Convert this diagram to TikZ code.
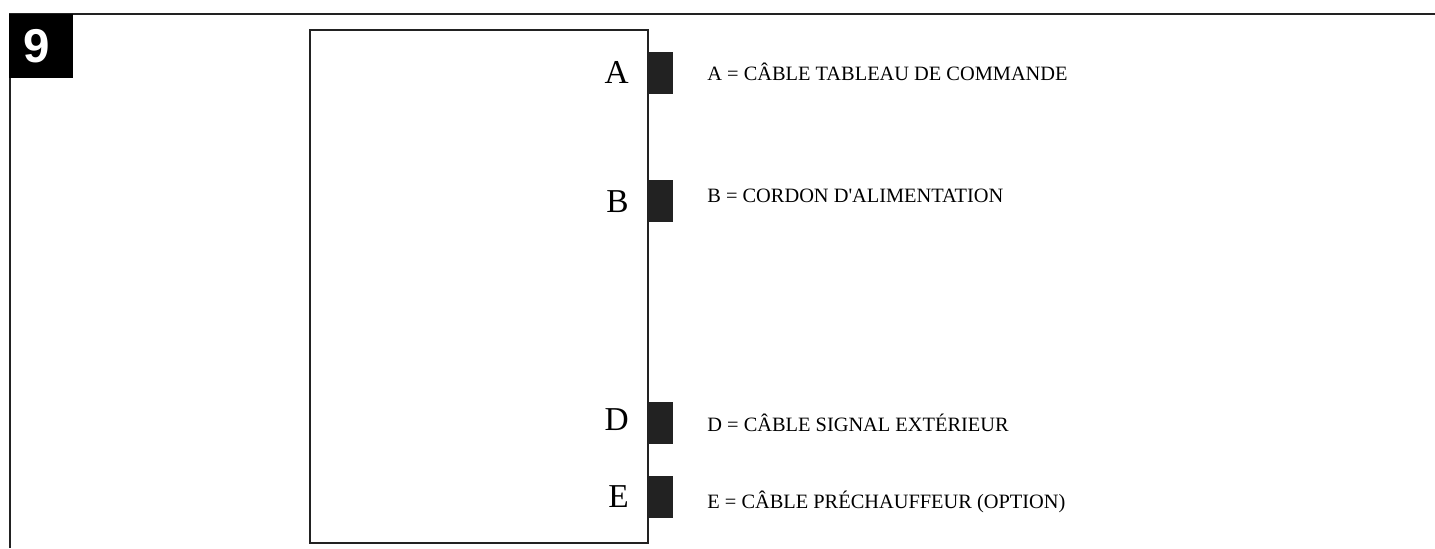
\documentclass[tikz,border=0pt]{standalone}
\usepackage{fontspec}
\setmainfont{Liberation Serif}
\newfontfamily\numfont{Liberation Sans}
\usetikzlibrary{positioning}
\definecolor{framegray}{HTML}{222222}

\begin{document}
\begin{tikzpicture}[x=0.02cm, y=-0.02cm, node distance=0.34cm, every node/.style={inner sep=0pt}]
  \useasboundingbox (0,0) rectangle (1435,548);
  % outer frame and figure number
  \draw[framegray, line width=1.3pt] (10,548) -- (10,14) -- (1435,14);
  \node[fill=black, minimum width=64*0.02cm, minimum height=64*0.02cm, anchor=north west] (num) at (9,14) {};
  \node[text=white, font=\numfont\bfseries\fontsize{27}{27}\selectfont] at (37,46) {9};
  % unit
  \draw[framegray, line width=1.1pt] (310,30) rectangle (648,543);
  \node[fill=framegray, minimum width=25*0.02cm, minimum height=42*0.02cm, anchor=north west] (ta) at (648,52) {};
  \node[fill=framegray, minimum width=25*0.02cm, minimum height=42*0.02cm, anchor=north west] (tb) at (648,180) {};
  \node[fill=framegray, minimum width=25*0.02cm, minimum height=42*0.02cm, anchor=north west] (td) at (648,402) {};
  \node[fill=framegray, minimum width=25*0.02cm, minimum height=42*0.02cm, anchor=north west] (te) at (648,476) {};
  % letters
  \node[font=\fontsize{19}{19}\selectfont, anchor=east] (la) at (629,72) {A};
  \node[font=\fontsize{19}{19}\selectfont, anchor=east] (lb) at (629,202) {B};
  \node[font=\fontsize{19}{19}\selectfont, anchor=east] (ld) at (629,420) {D};
  \node[font=\fontsize{19}{19}\selectfont, anchor=east] (le) at (629,497) {E};
  % legends
  \node[font=\fontsize{11.6}{12}\selectfont, anchor=west] (ka) at (707,72) {A = CÂBLE TABLEAU DE COMMANDE};
  \node[font=\fontsize{11.6}{12}\selectfont, anchor=west] (kb) at (707,196) {B = CORDON D\textquotesingle ALIMENTATION};
  \node[font=\fontsize{11.6}{12}\selectfont, anchor=west] (kd) at (707,423) {D = CÂBLE SIGNAL EXTÉRIEUR};
  \node[font=\fontsize{11.6}{12}\selectfont, anchor=west] (ke) at (707,502) {E = CÂBLE PRÉCHAUFFEUR (OPTION)};
\end{tikzpicture}
\end{document}
